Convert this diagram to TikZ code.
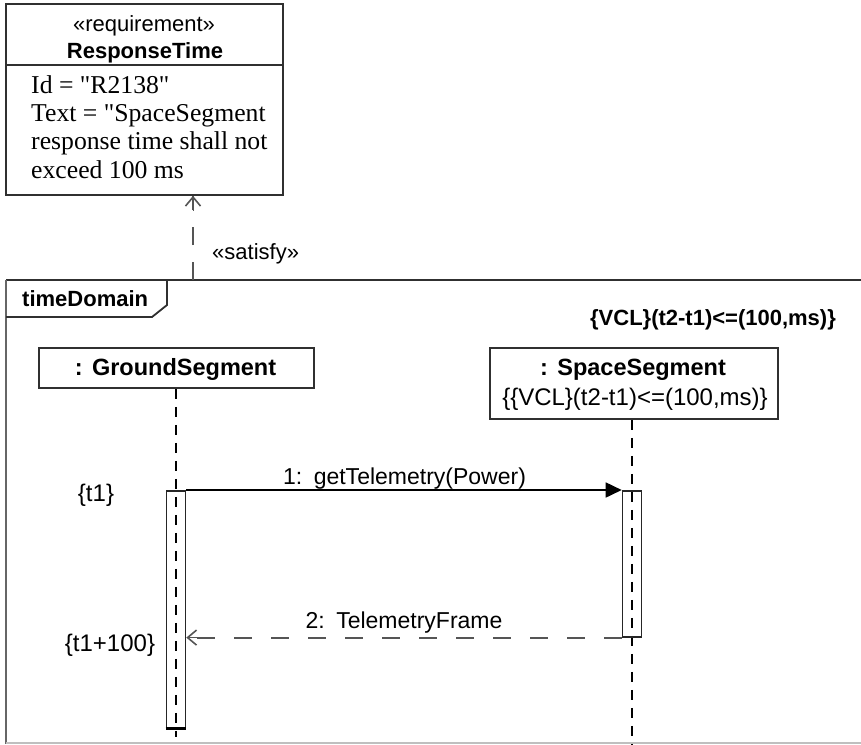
\documentclass[tikz,border=0pt]{standalone}
\usepackage{fontspec}
\setmainfont{Liberation Sans}
\newfontfamily\timesf[Ligatures=TeXOff]{Liberation Serif}
\usetikzlibrary{arrows.meta}
\definecolor{linec}{HTML}{303030}
\definecolor{dashc}{HTML}{555555}
\tikzset{
  box/.style={draw=linec, line width=1.8pt, inner sep=0pt},
  lbl/.style={inner sep=0pt, anchor=base, font=\fontsize{22}{26}\selectfont},
  lblb/.style={lbl, font=\fontsize{22}{26}\selectfont\bfseries},
  headb/.style={lbl, font=\fontsize{23.5}{27}\selectfont\bfseries},
  lifeline/.style={draw=black, line width=1.7pt, dash pattern=on 10pt off 8pt},
  framel/.style={draw=linec, line width=1.8pt},
  msgline/.style={draw=black, line width=1.7pt},
  replyline/.style={draw=dashc, line width=2pt, dash pattern=on 18pt off 19pt},
  satline/.style={draw=dashc, line width=2pt, dash pattern=on 18pt off 17pt},
  openhead/.style={-{Straight Barb[length=9pt, width=15pt, line width=1.6pt]}},
  fillhead/.style={-{Triangle[length=16pt, width=15pt]}}
}
\begin{document}
\begin{tikzpicture}[x=1pt, y=-1pt]
\useasboundingbox (0,0) rectangle (861,744);

% requirement box
\node[box, minimum width=277pt, minimum height=191pt, anchor=north west] (req) at (5,3) {};
\coordinate (reqdivL) at (5,65);
\coordinate (reqdivR) at (282,65);
\draw[framel] (reqdivL) -- (reqdivR);
\node[lbl] (reqst) at (144,31) {«requirement»};
\node[lblb] (reqname) at (145,58) {ResponseTime};
\node[inner sep=0pt, anchor=north west, align=left, font=\timesf\fontsize{25.7}{28.4}\selectfont] (reqbody) at (31,75)
  {Id = "R2138"\\Text = "SpaceSegment\\response time shall not\\exceed 100 ms};

% frame
\coordinate (frTR) at (861,280);
\coordinate (frTL) at (6,280);
\coordinate (frBL) at (6,744);
\coordinate (frBR) at (861,743);
\coordinate (frBL2) at (6,743);
\draw[framel] (frTR) -- (frTL);
\draw[draw=black!60, line width=1.8pt] (frTL) -- (frBL);
\draw[draw=black!25, line width=1.8pt] (frBL2) -- (frBR);
\coordinate (tabA) at (6,317);
\coordinate (tabB) at (152,317);
\coordinate (tabC) at (167,305);
\coordinate (tabD) at (167,280);
\draw[framel] (tabA) -- (tabB) -- (tabC) -- (tabD);
\node[lblb, anchor=base west] (fname) at (22,306) {timeDomain};
\node[lblb] (constr) at (713,325) {\{VCL\}(t2-t1)<=(100,ms)\}};

% satisfy
\coordinate (satfoot) at (193,280);
\draw[satline] (satfoot) -- (req.south -| satfoot);
\draw[draw=dashc, openhead] (req.south -| satfoot) ++(0,15) -- (req.south -| satfoot);
\node[lbl, anchor=base west] (satlbl) at (212,259) {«satisfy»};

% lifeline heads
\node[box, minimum width=275pt, minimum height=40pt, anchor=north west] (gs) at (38,347) {};
\node[headb] (gsname) at (175.5,375) {:\hspace{0.4em}GroundSegment};
\node[box, minimum width=288pt, minimum height=71pt, anchor=north west] (ss) at (489,347) {};
\node[headb] (ssname) at (633,375) {:\hspace{0.4em}SpaceSegment};
\node[lbl, font=\fontsize{24}{28}\selectfont] (sscon) at (635,405) {\{\{VCL\}(t2-t1)<=(100,ms)\}};

% lifelines
\coordinate (gsend) at (176,737);
\coordinate (ssend) at (632,744);
\draw[lifeline] (gs.south -| gsend) -- (gsend);
\draw[lifeline] (ss.south -| ssend) -- (ssend);

% activations
\node[box, draw=black!85, line width=1.6pt, minimum width=19pt, minimum height=237pt, anchor=north] (actG) at (176,490) {};
\draw[draw=black, line width=3.2pt] (actG.south west) -- (actG.south east);
\node[box, draw=black!85, line width=1.6pt, minimum width=19pt, minimum height=146pt, anchor=north] (actS) at (632,490) {};

% messages
\draw[msgline, fillhead] (actG.north east) -- (actS.north west);
\node[lbl, font=\fontsize{23}{27}\selectfont] (m1) at (404.5,484) {1:\hspace{0.5em}getTelemetry(Power)};
\draw[replyline] (actS.south west) -- ([xshift=1pt]actG.east |- actS.south west);
\draw[draw=dashc, line width=1.6pt, openhead] ([xshift=16pt]actG.east |- actS.south west) -- (actG.east |- actS.south west);
\node[lbl, font=\fontsize{23}{27}\selectfont] (m2) at (404,628) {2:\hspace{0.5em}TelemetryFrame};

% time labels
\node[lbl, font=\fontsize{24}{28}\selectfont] (t1) at (96,501) {\{t1\}};
\node[lbl, font=\fontsize{24}{28}\selectfont] (t2) at (110,651) {\{t1+100\}};
\end{tikzpicture}
\end{document}
